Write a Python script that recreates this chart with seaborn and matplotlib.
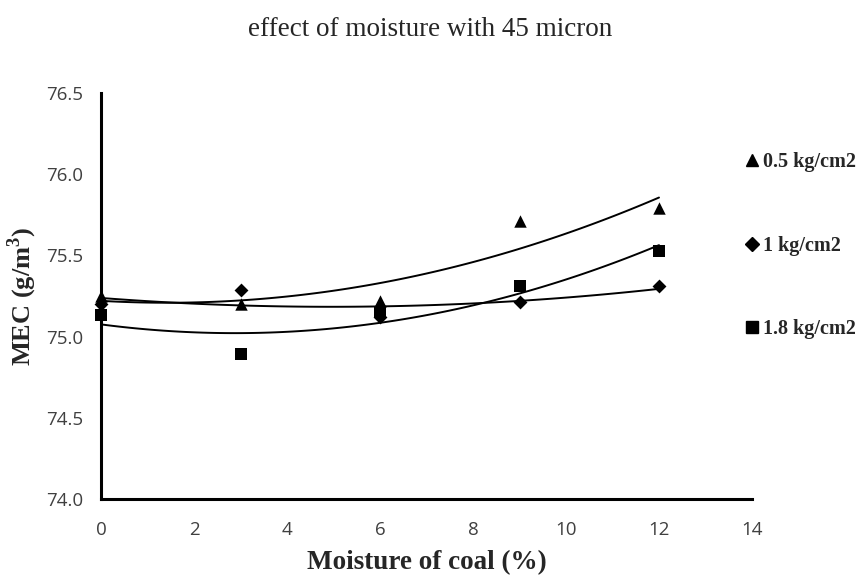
import numpy as np
import pandas as pd
import matplotlib
matplotlib.use("Agg")
import matplotlib.pyplot as plt
import seaborn as sns

moisture = [0, 3, 6, 9, 12]
mec_05 = [75.25, 75.20, 75.22, 75.71, 75.79]
mec_10 = [75.20, 75.29, 75.12, 75.21, 75.31]
mec_18 = [75.13, 74.89, 75.15, 75.31, 75.53]
series_labels = ["0.5 kg/cm2", "1 kg/cm2", "1.8 kg/cm2"]
markers = ["^", "D", "s"]
marker_sizes = [80, 50, 80]

sns.set_theme(style="white")
plt.rcParams["font.family"] = ["Liberation Serif", "DejaVu Serif"]
plt.rcParams["mathtext.fontset"] = "custom"
plt.rcParams["mathtext.rm"] = "Liberation Serif"
plt.rcParams["mathtext.bf"] = "Liberation Serif:bold"

fig = plt.figure(figsize=(8.64, 5.77), dpi=100)
ax = fig.add_axes([101 / 864, 1 - 499 / 577, (752 - 101) / 864, (499 - 93) / 577])

frames = []
for lab, vals in zip(series_labels, [mec_05, mec_10, mec_18]):
    frames.append(pd.DataFrame({"moisture": moisture, "mec": vals, "pressure": lab}))
df = pd.concat(frames, ignore_index=True)

for lab, mk, ms in zip(series_labels, markers, marker_sizes):
    sub = df[df["pressure"] == lab]
    sns.regplot(data=sub, x="moisture", y="mec", order=2, ci=None, ax=ax,
                marker=mk, color="black",
                scatter_kws={"s": ms, "zorder": 3, "linewidths": 0, "alpha": 1,
                             "clip_on": False},
                line_kws={"lw": 1.4, "zorder": 2}, label=lab)

ax.set_xlim(0, 14)
ax.set_ylim(74.0, 76.5)
ax.set_xticks(range(0, 15, 2))
ax.set_yticks(np.arange(74.0, 76.51, 0.5))
ax.set_yticklabels([f"{v:.1f}" for v in np.arange(74.0, 76.51, 0.5)])
for lbl in ax.get_xticklabels() + ax.get_yticklabels():
    lbl.set_fontfamily("Open Sans")
    lbl.set_fontsize(13.5)
    lbl.set_color("#404040")
ax.tick_params(axis="both", length=0)
ax.tick_params(axis="y", pad=13)
ax.tick_params(axis="x", pad=16)

for side in ["top", "right"]:
    ax.spines[side].set_visible(False)
for side in ["left", "bottom"]:
    ax.spines[side].set_color("black")
    ax.spines[side].set_linewidth(2.2)

ax.set_xlabel("Moisture of coal (%)", fontsize=19.5, fontweight="bold", labelpad=8)
ax.set_ylabel("MEC (g/m$^{\\mathbf{3}}$)", fontsize=19, fontweight="bold", labelpad=5)
fig.text(430 / 864, 1 - 30 / 577, "effect of moisture with 45 micron",
         ha="center", va="center", fontsize=19.5)

# legend markers on the right
handles = [plt.Line2D([], [], marker=m, color="black", linestyle="none", markersize=s)
           for m, s in zip(markers, [9, 7, 9])]
fig.legend(handles, series_labels, loc="upper left", bbox_to_anchor=(728 / 864, 1 - 134 / 577),
           frameon=False, labelspacing=3.15, handlelength=0.6, handletextpad=0.25,
           prop={"family": "Liberation Serif", "weight": "bold", "size": 14.5})

fig.savefig("out.png", dpi=100)
